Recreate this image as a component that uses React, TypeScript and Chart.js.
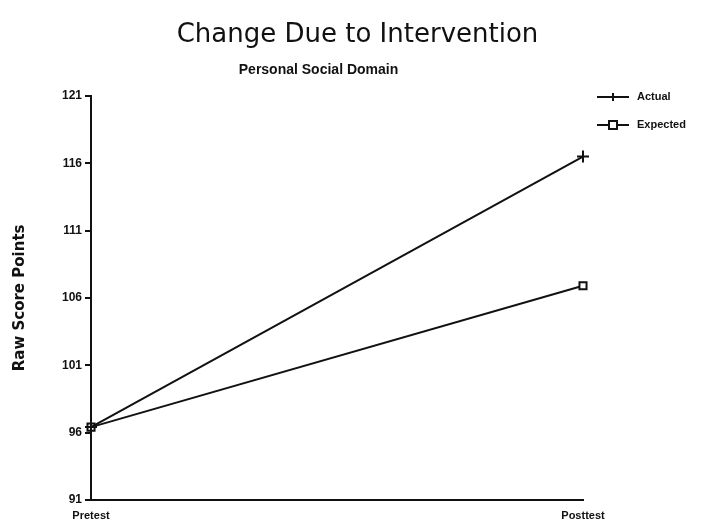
import React, { useEffect, useRef } from "react";
import { Chart, registerables } from "chart.js";

Chart.register(...registerables);

const categories = ["Pretest", "Posttest"];
const actualValues = [96.4, 116.5];
const expectedValues = [96.4, 106.9];
const seriesNames = ["Actual", "Expected"];
const yTicks = [91, 96, 101, 106, 111, 116, 121];
const titleText = "Change Due to Intervention";
const subtitleText = "Personal Social Domain";
const yAxisTitle = "Raw Score Points";

const INK = "#111111";

const drawMarker = (ctx: CanvasRenderingContext2D, style: string, x: number, y: number, r: number) => {
  ctx.save();
  ctx.strokeStyle = INK;
  ctx.lineWidth = 2;
  ctx.beginPath();
  if (style === "cross") {
    ctx.moveTo(x - r, y);
    ctx.lineTo(x + r, y);
    ctx.moveTo(x, y - r);
    ctx.lineTo(x, y + r);
    ctx.stroke();
  } else {
    ctx.fillStyle = "#ffffff";
    ctx.rect(x - r, y - r, 2 * r, 2 * r);
    ctx.fill();
    ctx.stroke();
  }
  ctx.restore();
};

const decorPlugin = {
  id: "decor",
  afterDraw(chart: any) {
    const ctx: CanvasRenderingContext2D = chart.ctx;
    const w = chart.width;
    ctx.save();
    ctx.fillStyle = INK;
    ctx.textAlign = "center";
    ctx.textBaseline = "middle";
    ctx.font = "26px 'DejaVu Sans'";
    ctx.fillText(titleText, w / 2 + 3, 35);
    ctx.font = "bold 14px 'Liberation Sans'";
    ctx.fillText(subtitleText, w / 2 - 36, 70);

    // legend
    const styles = ["cross", "rect"];
    const lx = 597;
    const ly = 97;
    ctx.textAlign = "left";
    ctx.font = "bold 11px 'Liberation Sans'";
    chart.data.datasets.forEach((ds: any, i: number) => {
      const y = ly + i * 28;
      ctx.strokeStyle = INK;
      ctx.lineWidth = 2;
      ctx.beginPath();
      ctx.moveTo(lx, y);
      ctx.lineTo(lx + 32, y);
      ctx.stroke();
      drawMarker(ctx, styles[i], lx + 16, y, 4);
      ctx.fillStyle = INK;
      ctx.fillText(ds.label, lx + 40, y);
    });
    ctx.restore();
  },
};

export default function App() {
  const ref = useRef<HTMLCanvasElement | null>(null);
  useEffect(() => {
    document.body.style.margin = "0";
    const canvas = ref.current;
    if (!canvas) return;
    const chart = new Chart(canvas, {
      type: "line",
      data: {
        labels: categories,
        datasets: [
          {
            label: seriesNames[0],
            data: actualValues,
            borderColor: INK,
            backgroundColor: INK,
            borderWidth: 2,
            pointStyle: "cross",
            pointRadius: 6,
            pointBorderWidth: 2,
            pointBorderColor: INK,
          },
          {
            label: seriesNames[1],
            data: expectedValues,
            borderColor: INK,
            backgroundColor: "#ffffff",
            borderWidth: 2,
            pointStyle: "rect",
            pointRadius: 5,
            pointBorderWidth: 2,
            pointBorderColor: INK,
            pointBackgroundColor: "#ffffff",
          },
        ],
      },
      options: {
        animation: false,
        responsive: false,
        maintainAspectRatio: false,
        layout: { padding: { top: 96, right: 126, left: 11, bottom: 0 } },
        plugins: {
          legend: { display: false },
          tooltip: { enabled: false },
          title: { display: false },
        },
        scales: {
          x: {
            offset: false,
            grid: { display: false },
            border: { display: true, color: INK, width: 2 },
            ticks: {
              color: INK,
              padding: 2,
              maxRotation: 0,
              font: { family: "'Liberation Sans'", size: 11, weight: "bold" },
            },
          },
          y: {
            min: 91,
            max: 121,
            afterBuildTicks: (axis: any) => {
              axis.ticks = yTicks.map((v) => ({ value: v }));
            },
            grid: {
              drawOnChartArea: false,
              drawTicks: true,
              tickLength: 6,
              color: INK,
              lineWidth: 2,
            },
            border: { display: true, color: INK, width: 2 },
            ticks: {
              color: INK,
              padding: 3,
              font: { family: "'Liberation Sans'", size: 12, weight: "bold" },
            },
            title: {
              display: true,
              text: yAxisTitle,
              color: INK,
              font: { family: "'DejaVu Sans'", size: 15, weight: "bold" },
              padding: { top: 0, bottom: 30 },
            },
          },
        },
      },
      plugins: [decorPlugin],
    });
    return () => chart.destroy();
  }, []);
  return (
    <div style={{ width: 709, height: 525, background: "#fff" }}>
      <canvas ref={ref} width={709} height={525} style={{ display: "block" }} />
    </div>
  );
}
